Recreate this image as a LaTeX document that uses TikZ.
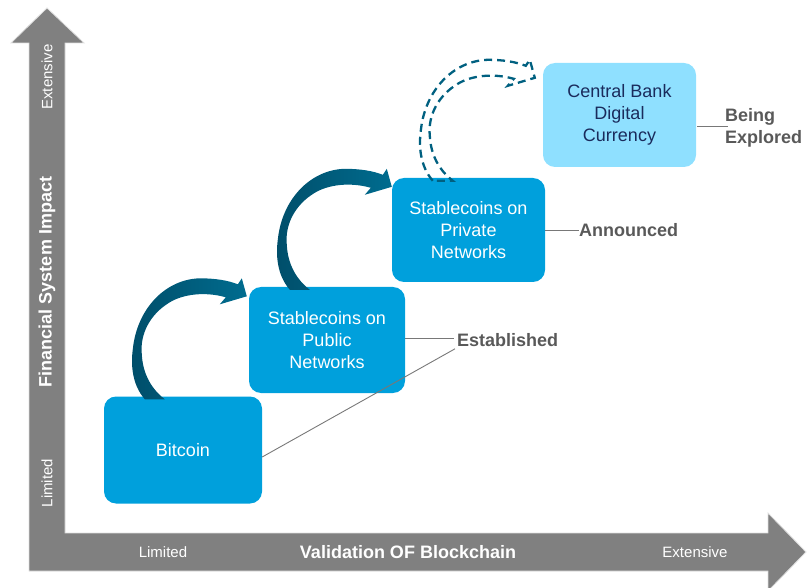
\documentclass[tikz,border=0pt]{standalone}
\usepackage{fontspec}
\setmainfont{Liberation Sans}
\usetikzlibrary{calc}
\definecolor{boxblue}{RGB}{0,160,220}
\definecolor{lightbox}{RGB}{143,224,255}
\definecolor{cbdcnavy}{RGB}{26,43,92}
\definecolor{arrowteal}{RGB}{0,96,128}
\definecolor{arrowdark}{RGB}{0,78,106}
\definecolor{arrowlight}{RGB}{0,108,143}
\definecolor{axisgray}{RGB}{128,128,128}
\definecolor{labelgray}{RGB}{89,89,89}
\definecolor{linegray}{RGB}{120,120,120}
\begin{document}
\begin{tikzpicture}[x=1pt,y=-1pt,
  stagebox/.style={rectangle, rounded corners=12pt, fill=boxblue, text=white, align=center,
    font=\fontsize{18}{22}\selectfont, inner sep=0pt},
  status/.style={font=\bfseries\fontsize{18}{22}\selectfont, text=labelgray, inner sep=0pt, align=left},
  axislabel/.style={text=white, font=\fontsize{15}{18}\selectfont, inner sep=0pt},
  axistitle/.style={text=white, font=\bfseries\fontsize{18}{22}\selectfont, inner sep=0pt},
  leader/.style={draw=linegray, line width=0.9pt},
  pics/curvearrow/.style={code={
    \path[pic actions] (41,3) .. controls (28,-12) and (27,-32) .. (29,-47)
      .. controls (33,-87) and (61,-117) .. (96,-118)
      .. controls (111,-118) and (124,-116) .. (134,-112)
      -- (138,-118) -- (143,-100) -- (116,-92) -- (122,-99)
      .. controls (101,-105) and (79,-102) .. (66,-94)
      .. controls (46,-82) and (36,-62) .. (38,-42)
      .. controls (39,-22) and (48,-7) .. (61,3) -- cycle;
  }}
]
\useasboundingbox (0,0) rectangle (809,588);
\clip (0,0) rectangle (809,588);

% axes
\path[fill=axisgray, draw=white!75!axisgray, line width=0.8pt]
  (29,571) -- (29,43) -- (11,43) -- (47,8) -- (84,43) -- (65,43) -- (65,533)
  -- (768,533) -- (768,513) -- (806,552) -- (768,591) -- (768,571) -- cycle;

\node[axislabel, rotate=90] (yext) at (47,77) {Extensive};
\node[axistitle, rotate=90] (ytitle) at (47,282) {Financial System Impact};
\node[axislabel, rotate=90] (ylim) at (47,483) {Limited};
\node[axislabel] (xlim) at (163,552) {Limited};
\node[axistitle] (xtitle) at (408,552) {Validation OF Blockchain};
\node[axislabel] (xext) at (695,552) {Extensive};

% stage boxes
\node[stagebox, minimum width=158pt, minimum height=107pt] (b1) at (183,450) {Bitcoin};
\node[stagebox, minimum width=156pt, minimum height=106pt] (b2) at (327,340) {Stablecoins on\\Public\\Networks};
\node[stagebox, minimum width=153pt, minimum height=104pt] (b3) at (468.5,230) {Stablecoins on\\Private\\Networks};
\node[stagebox, fill=lightbox, text=cbdcnavy, minimum width=153pt, minimum height=104pt] (b4) at (619.5,115) {Central Bank\\Digital\\Currency};

% status labels
\node[status, anchor=west] (est) at (457,340) {Established};
\node[status, anchor=west] (ann) at (579,230) {Announced};
\node[status, anchor=west] (exp) at (725,128) {Being\\Explored};

\draw[leader] ($(b2.east)+(0,-2)$) -- ($(est.west)+(-3,-2)$);
\draw[leader] ($(b1.east)+(0,7)$) -- ($(est.south west)+(-2,2)$);
\draw[leader] (b3.east) -- (ann.west);
\draw[leader] ($(b4.east |- exp.west)+(1,-2)$) -- ($(exp.west)+(3,-2)$);

% curved arrows
\pic[left color=arrowdark, right color=arrowlight] at (b1.north west) {curvearrow};
\pic[left color=arrowdark, right color=arrowlight] at (b2.north west) {curvearrow};
\pic[draw=arrowteal, line width=2.3pt, dash pattern=on 8pt off 5pt] at (b3.north west) {curvearrow};
\end{tikzpicture}
\end{document}
